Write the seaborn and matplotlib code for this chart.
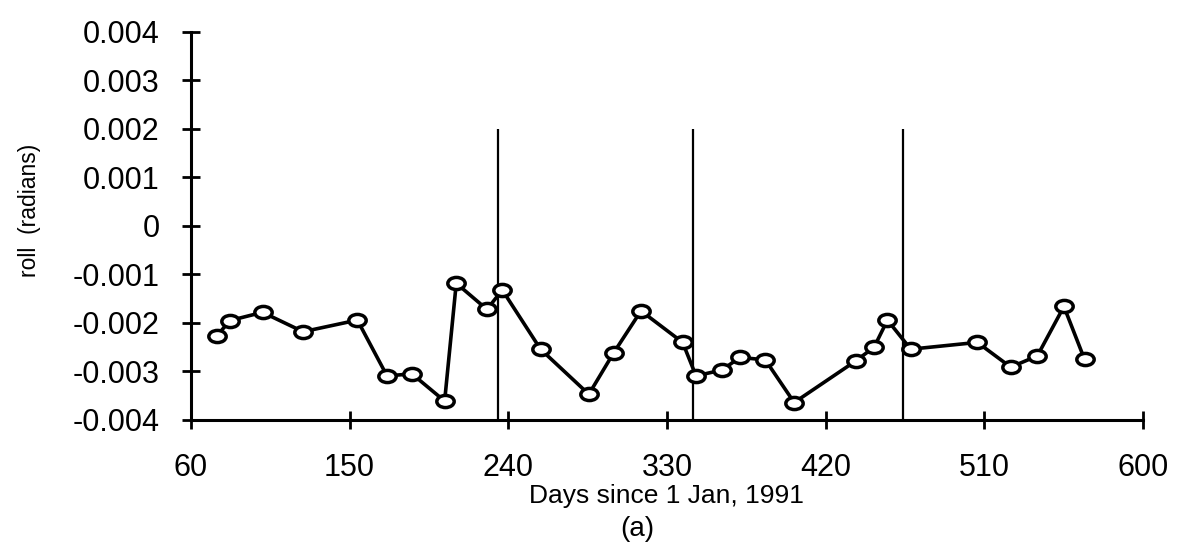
import numpy as np
import pandas as pd
import matplotlib
matplotlib.use("Agg")
import matplotlib.pyplot as plt
import seaborn as sns
from matplotlib.path import Path
from matplotlib.transforms import Affine2D

# ------------------ data ------------------ #
days = [74.6, 82.1, 100.6, 123.6, 154.4, 171.2, 185.4, 203.9, 210.5, 227.9,
        236.6, 258.3, 285.7, 299.7, 315.3, 338.9, 346.5, 361.2, 371.4, 385.8,
        402.2, 437.2, 447.5, 455.1, 468.3, 506.1, 525.0, 540.1, 555.2, 566.9]
roll = [-0.00227, -0.00195, -0.00178, -0.00218, -0.00194, -0.00309, -0.00305,
        -0.00361, -0.00118, -0.00172, -0.00132, -0.00254, -0.00347, -0.00262,
        -0.00175, -0.00240, -0.00309, -0.00297, -0.00271, -0.00276, -0.00364,
        -0.00278, -0.00250, -0.00194, -0.00254, -0.00240, -0.00291, -0.00268,
        -0.00166, -0.00275]

event_days = [234, 345, 464]
event_top = 0.002

xticks = [60, 150, 240, 330, 420, 510, 600]
yticks = [-0.004, -0.003, -0.002, -0.001, 0, 0.001, 0.002, 0.003, 0.004]
ytick_labels = ['-0.004', '-0.003', '-0.002', '-0.001', '0',
                '0.001', '0.002', '0.003', '0.004']

df = pd.DataFrame({'day': days, 'roll': roll})

# ------------------ style ------------------ #
sns.set_style('white')
plt.rcParams['font.family'] = ['Liberation Sans', 'DejaVu Sans']
plt.rcParams['axes.unicode_minus'] = False
plt.rcParams['text.color'] = 'black'
plt.rcParams['axes.labelcolor'] = 'black'

fig = plt.figure(figsize=(11.78, 5.46), dpi=100)
ax = fig.add_axes([0.1621, 0.2308, 0.8081, 0.7106])

# flat ellipse marker, like the hand-drawn open circles
ellipse = Path.unit_circle().transformed(Affine2D().scale(1.0, 0.7))

ax.vlines(event_days, -0.004, event_top, color='black', lw=1.6, zorder=1)

sns.lineplot(data=df, x='day', y='roll', ax=ax, color='black', lw=2.6,
             marker=ellipse, markersize=12.5, markerfacecolor='white',
             markeredgecolor='black', markeredgewidth=2.5, sort=False,
             zorder=3, clip_on=False)

ax.set_xlim(60, 600)
ax.set_ylim(-0.004, 0.004)
ax.set_xticks(xticks)
ax.set_xticklabels([str(t) for t in xticks])
ax.set_yticks(yticks)
ax.set_yticklabels(ytick_labels)

for s in ['top', 'right']:
    ax.spines[s].set_visible(False)
for s in ['left', 'bottom']:
    ax.spines[s].set_linewidth(2.2)
    ax.spines[s].set_color('black')

ax.tick_params(axis='both', direction='inout', length=13, width=2,
               colors='black', labelsize=22, bottom=True, left=True)
ax.tick_params(axis='y', pad=16)
ax.tick_params(axis='x', pad=17)

ax.set_xlabel('Days since 1 Jan, 1991', fontsize=19, labelpad=1)
ax.set_ylabel('roll  (radians)', fontsize=16.5)
ax.yaxis.set_label_coords(-0.158, 0.54)
fig.text(0.541, 0.008, '(a)', fontsize=20, ha='center', va='bottom')

fig.savefig('out.png', dpi=100)
